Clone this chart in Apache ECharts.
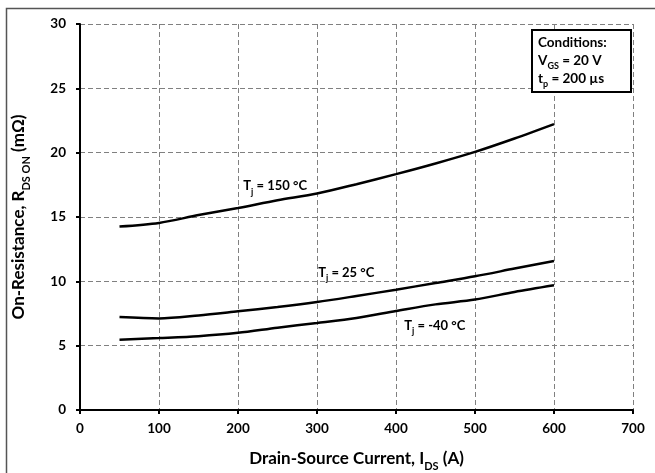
<!DOCTYPE html>
<html>
<head>
<meta charset="utf-8">
<script src="https://cdn.jsdelivr.net/npm/echarts@6/dist/echarts.min.js"></script>
<style>
html,body{margin:0;padding:0;background:#fff;}
#c{width:655px;height:473px;}
</style>
</head>
<body>
<div id="c"></div>
<script>
const current = [50, 100, 150, 200, 250, 300, 350, 400, 450, 500, 550, 600];
const r150 = [14.26, 14.54, 15.15, 15.70, 16.30, 16.82, 17.55, 18.33, 19.16, 20.06, 21.10, 22.22];
const r25 = [7.22, 7.12, 7.35, 7.67, 8.00, 8.39, 8.86, 9.35, 9.87, 10.39, 10.99, 11.58];
const rm40 = [5.46, 5.59, 5.74, 6.00, 6.40, 6.76, 7.15, 7.69, 8.21, 8.58, 9.17, 9.69];
const xTicks = [0, 100, 200, 300, 400, 500, 600, 700];
const yTicks = [0, 5, 10, 15, 20, 25, 30];
const seriesNames = ['150', '25', '-40'];
const labelPos = [[247, 17.4], [337, 10.7], [449, 6.58]];

const FONT = 'Lato';
const chart = echarts.init(document.getElementById('c'));
const pair = a => current.map((x, i) => [x, a[i]]);
const rich = {
  b: {fontFamily: FONT, fontWeight: 'bold', fontSize: 13, color: '#000'},
  s: {fontFamily: FONT, fontWeight: 'bold', fontSize: 9, color: '#000', verticalAlign: 'bottom', padding: [0, 0, -4, 0]}
};
function mkSeries(name, vals, pos) {
  return {
    type: 'line', data: pair(vals), smooth: 0.3, symbol: 'none',
    lineStyle: {color: '#000', width: 2.5},
    markPoint: {
      symbol: 'circle', symbolSize: 0,
      data: [{coord: pos}],
      label: {show: true, position: 'inside', formatter: '{b|T}{s|j}{b| = ' + name + ' °C}', rich: rich}
    },
    silent: true, animation: false
  };
}
const nameRich = {
  b: {fontFamily: FONT, fontWeight: 'bold', fontSize: 17, color: '#000'},
  s: {fontFamily: FONT, fontWeight: 'bold', fontSize: 11, color: '#000', verticalAlign: 'bottom', padding: [0, 0, -5, 0]}
};
const gridLine = {show: true, lineStyle: {color: '#808080', width: 1, type: [5, 3]}};
const boxRich = {
  b: {fontFamily: FONT, fontWeight: 'bold', fontSize: 13.5, color: '#000'},
  s: {fontFamily: FONT, fontWeight: 'bold', fontSize: 9, color: '#000', verticalAlign: 'bottom', padding: [0, 0, -3, 0]}
};
chart.setOption({
  animation: false,
  backgroundColor: '#fff',
  grid: {left: 80, right: 22, top: 24, bottom: 63, containLabel: false, outerBoundsMode: 'none'},
  xAxis: {
    type: 'value', min: xTicks[0], max: xTicks[xTicks.length - 1], interval: 100,
    axisLine: {lineStyle: {color: '#000', width: 2}},
    axisTick: {show: true, length: 4, lineStyle: {color: '#000', width: 2}},
    axisLabel: {fontFamily: FONT, fontWeight: 'bold', fontSize: 13.5, color: '#000', margin: 12},
    splitLine: gridLine,
    name: '{b|Drain-Source Current, I}{s|DS}{b| (A)}',
    nameLocation: 'middle', nameGap: 40,
    nameTextStyle: {rich: nameRich}
  },
  yAxis: {
    type: 'value', min: yTicks[0], max: yTicks[yTicks.length - 1], interval: 5,
    axisLine: {show: true, lineStyle: {color: '#000', width: 2}},
    axisTick: {show: true, length: 4, lineStyle: {color: '#000', width: 2}},
    axisLabel: {fontFamily: FONT, fontWeight: 'bold', fontSize: 13.5, color: '#000', margin: 14},
    splitLine: gridLine,
    name: '{b|On-Resistance, R}{s|DS ON}{b| (mΩ)}',
    nameLocation: 'middle', nameGap: 53, nameRotate: 90,
    nameTextStyle: {rich: nameRich}
  },
  series: [
    mkSeries(seriesNames[0], r150, labelPos[0]),
    mkSeries(seriesNames[1], r25, labelPos[1]),
    mkSeries(seriesNames[2], rm40, labelPos[2])
  ],
  graphic: [
    {type: 'rect', shape: {x: 6.5, y: 8.5, width: 700, height: 500}, style: {fill: 'none', stroke: '#555', lineWidth: 1.5}, silent: true},
    {type: 'rect', shape: {x: 532, y: 30, width: 99, height: 62}, style: {fill: '#fff', stroke: '#000', lineWidth: 2}, z: 100},
    {type: 'text', left: 538, top: 36, z: 101, style: {text: '{b|Conditions:}', rich: boxRich}},
    {type: 'text', left: 538, top: 54, z: 101, style: {text: '{b|V}{s|GS}{b| = 20 V}', rich: boxRich}},
    {type: 'text', left: 538, top: 72, z: 101, style: {text: '{b|t}{s|p}{b| = 200 µs}', rich: boxRich}}
  ]
});
</script>
</body>
</html>
